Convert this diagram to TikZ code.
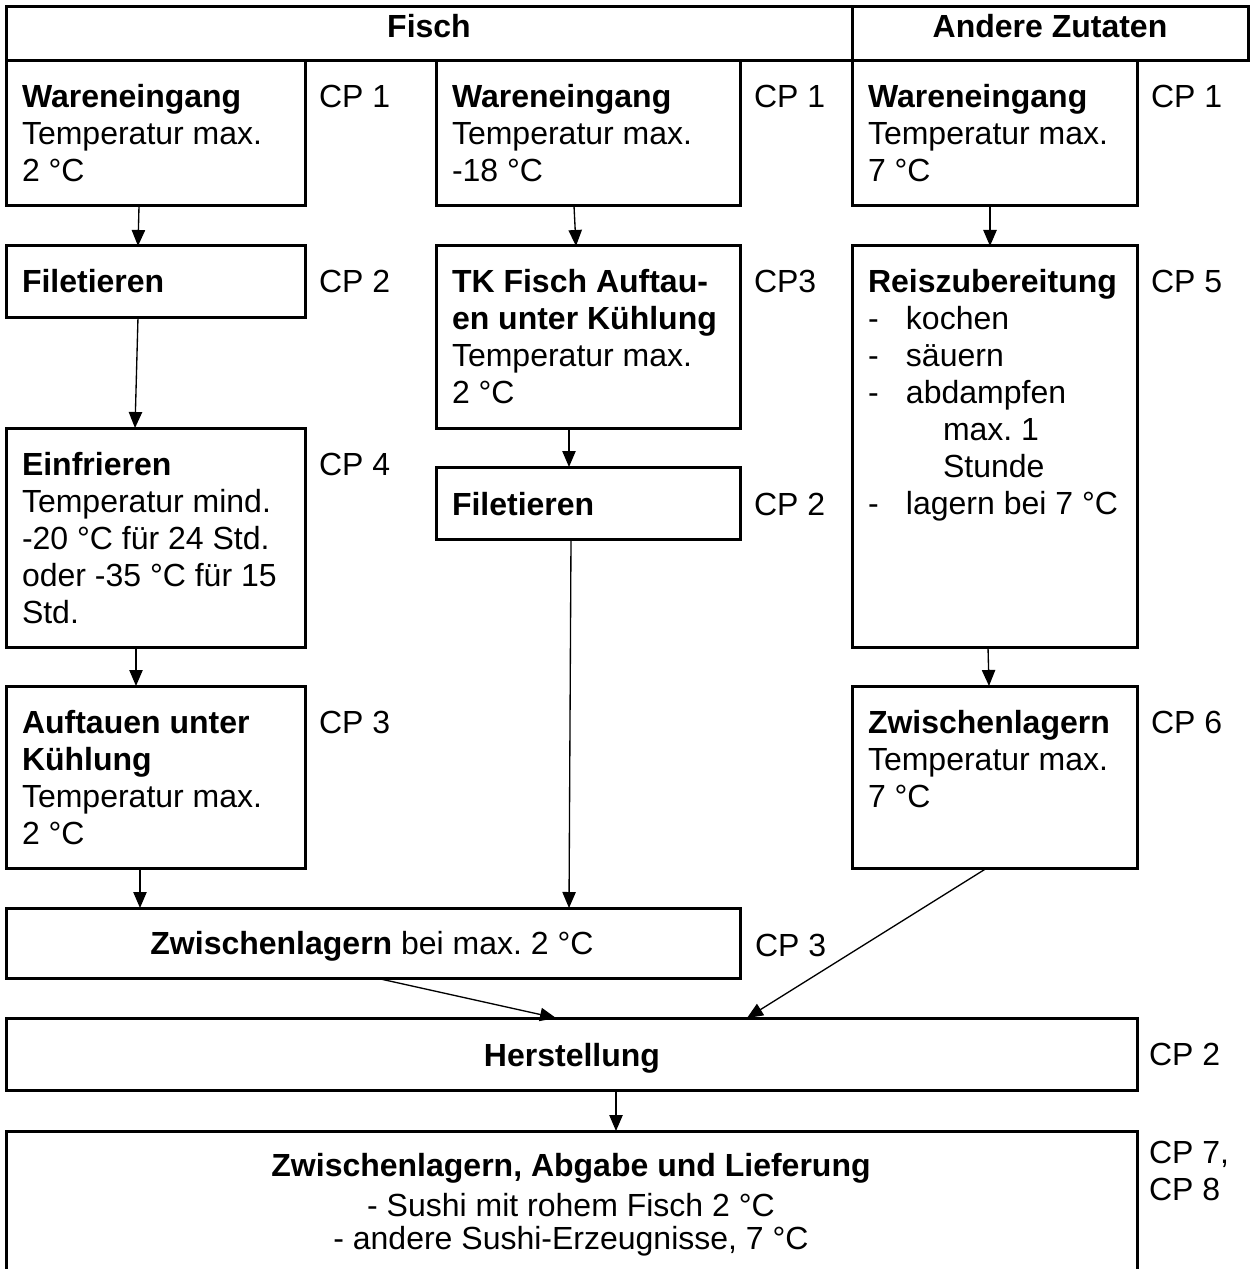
\documentclass[tikz,border=0pt]{standalone}
\usepackage{fontspec}
\setmainfont{Liberation Sans}
\usetikzlibrary{arrows.meta,calc}
\frenchspacing
\newcommand\mylines[1]{\begin{tabular}[t]{@{}l@{}}#1\end{tabular}}
\newcommand\dashit[1]{\makebox[22.8pt][l]{-}#1}
\newcommand\mkbox[5]{\node[box,minimum width={(#4-#2)*0.6pt},minimum height={(#5-#3)*0.6pt}] (#1) at (#2,#3) {};}
\begin{document}
\begin{tikzpicture}[x=0.6pt,y=-0.6pt,
  box/.style={draw,line width=1.8pt,inner sep=0pt,outer sep=0pt,anchor=north west},
  txt/.style={inner sep=0pt,outer sep=0pt,anchor=base west,font=\fontsize{19.2pt}{22.2pt}\selectfont\frenchspacing},
  ctxt/.style={txt,anchor=base},
  arr/.style={line width=0.8pt,-{Triangle[length=9.6pt,width=8pt]}}]
\useasboundingbox (0,0) rectangle (1250,1269);
\clip (0,0) rectangle (1250,1269);
% header
\mkbox{hf}{6}{7}{852}{61}
\mkbox{ha}{852}{7}{1248}{61}
\node[ctxt] (thf) at (429,38) {\textbf{Fisch}};
\node[ctxt] (tha) at (1050,38) {\textbf{Andere Zutaten}};
% column 1
\mkbox{w1}{6}{61}{305}{206}
\mkbox{f1}{6}{246}{305}{317}
\mkbox{e1}{6}{428}{305}{647}
\mkbox{a1}{6}{686}{305}{868}
% column 2
\mkbox{w2}{436}{61}{740}{206}
\mkbox{tk}{436}{246}{740}{428}
\mkbox{f2}{436}{467}{740}{539}
% column 3
\mkbox{w3}{852}{61}{1137}{206}
\mkbox{r3}{852}{246}{1137}{647}
\mkbox{z3}{852}{686}{1137}{868}
% lower
\mkbox{z2}{6}{908}{740}{978}
\mkbox{h}{6}{1018}{1137}{1090}
\mkbox{fin}{6}{1131}{1137}{1320}
% texts col 1
\node[txt] (tw1) at (22,108) {\mylines{\textbf{Wareneingang}\\Temperatur max.\\2 °C}};
\node[txt] (tf1) at (22,293) {\textbf{Filetieren}};
\node[txt] (te1) at (22,475) {\mylines{\textbf{Einfrieren}\\Temperatur mind.\\-20 °C für 24 Std.\\oder -35 °C für 15\\Std.}};
\node[txt] (ta1) at (22,733) {\mylines{\textbf{Auftauen unter}\\\textbf{Kühlung}\\Temperatur max.\\2 °C}};
% texts col 2
\node[txt] (tw2) at (452,108) {\mylines{\textbf{Wareneingang}\\Temperatur max.\\-18 °C}};
\node[txt] (ttk) at (452,293) {\mylines{\textbf{TK Fisch Auftau-}\\\textbf{en unter Kühlung}\\Temperatur max.\\2 °C}};
\node[txt] (tf2) at (452,515) {\textbf{Filetieren}};
% texts col 3
\node[txt] (tw3) at (868,108) {\mylines{\textbf{Wareneingang}\\Temperatur max.\\7 °C}};
\node[txt] (tr3) at (868,293) {\mylines{\textbf{Reiszubereitung}\\\dashit{kochen}\\\dashit{säuern}\\\dashit{abdampfen}\\\hspace{45pt}max. 1\\\hspace{45pt}Stunde\\\dashit{lagern bei 7 °C}}};
\node[txt] (tz3) at (868,733) {\mylines{\textbf{Zwischenlagern}\\Temperatur max.\\7 °C}};
% lower texts
\node[ctxt] (tz2) at (372,954) {\textbf{Zwischenlagern} bei max. 2 °C};
\node[ctxt] (th) at (572,1066) {\textbf{Herstellung}};
\node[ctxt] (tfa) at (571,1176) {\textbf{Zwischenlagern, Abgabe und Lieferung}};
\node[ctxt] (tfb) at (571,1216) {- Sushi mit rohem Fisch 2 °C};
\node[ctxt] (tfc) at (571,1249) {- andere Sushi-Erzeugnisse, 7 °C};
% CP labels
\node[txt] (cw1) at (319,108) {CP 1};
\node[txt] (cw2) at (754,108) {CP 1};
\node[txt] (cw3) at (1151,108) {CP 1};
\node[txt] (cf1) at (319,293) {CP 2};
\node[txt] (ctk) at (754,293) {CP3};
\node[txt] (cr3) at (1151,293) {CP 5};
\node[txt] (ce1) at (319,475) {CP 4};
\node[txt] (cf2) at (754,515) {CP 2};
\node[txt] (ca1) at (319,733) {CP 3};
\node[txt] (cz3) at (1151,733) {CP 6};
\node[txt] (cz2) at (755,956) {CP 3};
\node[txt] (ch) at (1149,1065) {CP 2};
\node[txt] (cfin) at (1149,1163) {\mylines{CP 7,\\CP 8}};
% arrows
\draw[arr] ($(w1.south west)+(133,0)$) -- ($(f1.north west)+(132,0)$);
\draw[arr] ($(f1.south west)+(132,0)$) -- ($(e1.north west)+(129,0)$);
\draw[arr] ($(e1.south west)+(130,0)$) -- ($(a1.north west)+(130,0)$);
\draw[arr] ($(a1.south west)+(134,0)$) -- ($(z2.north west)+(134,0)$);
\draw[arr] ($(w2.south west)+(138,0)$) -- ($(tk.north west)+(140,0)$);
\draw[arr] ($(tk.south west)+(133,0)$) -- ($(f2.north west)+(133,0)$);
\draw[arr] ($(f2.south west)+(135,0)$) -- ($(z2.north west)+(563,0)$);
\draw[arr] ($(w3.south west)+(138,0)$) -- ($(r3.north west)+(138,0)$);
\draw[arr] ($(r3.south west)+(136,0)$) -- ($(z3.north west)+(137,0)$);
\draw[arr] ($(z3.south west)+(135,0)$) -- ($(h.north west)+(741,0)$);
\draw[arr] ($(z2.south west)+(370,0)$) -- ($(h.north west)+(550,0)$);
\draw[arr] ($(h.south west)+(610,0)$) -- ($(fin.north west)+(610,0)$);
\end{tikzpicture}
\end{document}
